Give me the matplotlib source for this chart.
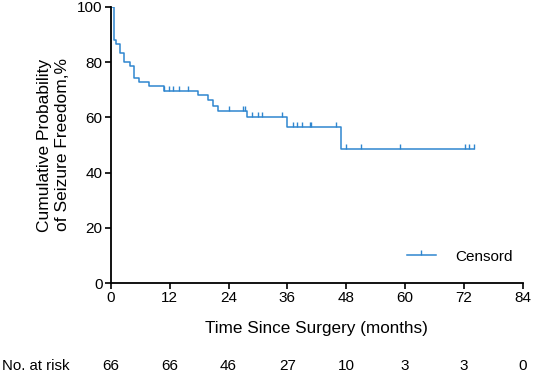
import numpy as np
import matplotlib
matplotlib.use("Agg")
import matplotlib.pyplot as plt
from matplotlib.path import Path
from matplotlib.lines import Line2D

plt.rcParams['font.family'] = ['Liberation Sans', 'DejaVu Sans']

# Kaplan-Meier steps (months, % seizure free after the drop)
step_times = [0.0, 0.7, 1.05, 1.9, 2.75, 3.8, 4.8, 5.8, 7.85, 10.8, 17.85, 19.9, 20.9, 21.9, 27.8, 35.9, 46.9]
step_surv = [100.0, 88.0, 86.4, 83.4, 80.1, 78.7, 74.1, 72.7, 71.2, 69.7, 68.0, 66.3, 64.1, 62.4, 60.1, 56.6, 48.5]
end_time = 74.1

# censored observations (months)
censor_times = [10.9, 11.8, 12.75, 13.8, 15.8, 24.0, 26.9, 27.3, 28.8, 29.9, 30.9, 34.8,
                37.1, 38.0, 38.9, 40.6, 40.9, 45.9, 48.0, 51.0, 59.0, 72.1, 73.1, 74.1]

risk_times = [0, 12, 24, 36, 48, 60, 72, 84]
at_risk = [66, 66, 46, 27, 10, 3, 3, 0]

blue = '#2f86cf'

def surv_at(t):
    idx = np.searchsorted(step_times, t, side='right') - 1
    return step_surv[idx]

fig = plt.figure(figsize=(5.33, 3.83), dpi=100)
ax = fig.add_axes([0.208, 0.261, 0.773, 0.721])

xs = step_times + [end_time]
ys = step_surv + [step_surv[-1]]
ax.step(xs, ys, where='post', color=blue, lw=1.1)

# censor mark: short vertical tick pointing up from the curve
tick = Path([(0, 0), (0, 1)], [Path.MOVETO, Path.LINETO])
cy = [surv_at(t) for t in censor_times]
ax.plot(censor_times, cy, ls='none', marker=tick, ms=6.5, mew=1.0, color=blue)

ax.set_xlim(0, 84)
ax.set_ylim(0, 100)
ax.set_xticks(risk_times)
ax.set_yticks([0, 20, 40, 60, 80, 100])
for s in ['top', 'right']:
    ax.spines[s].set_visible(False)
for s in ['left', 'bottom']:
    ax.spines[s].set_linewidth(1.3)
ax.tick_params(direction='out', length=4, width=1.2, labelsize=11, pad=2)

ax.set_xlabel('Time Since Surgery (months)', fontsize=12.3, labelpad=11)
ax.set_ylabel('Cumulative Probability\nof Seizure Freedom,%', fontsize=12.5, labelpad=5,
              linespacing=1.25)

handle = Line2D([], [], color=blue, lw=1.1, marker=tick, ms=6.5, mew=1.0)
ax.legend([handle], ['Censord'], loc='lower right', bbox_to_anchor=(1.01, 0.02),
          frameon=False, fontsize=11, handlelength=1.9, handletextpad=1.3,
          markerscale=1.0)

trans = ax.get_xaxis_transform()
for t, n in zip(risk_times, at_risk):
    ax.text(t, -0.30, str(n), transform=trans, ha='center', va='center', fontsize=11,
            clip_on=False)
fig.text(0.004, 1 - 366 / 383, 'No. at risk', ha='left', va='center', fontsize=10.8)

fig.savefig('out.png', dpi=100)
